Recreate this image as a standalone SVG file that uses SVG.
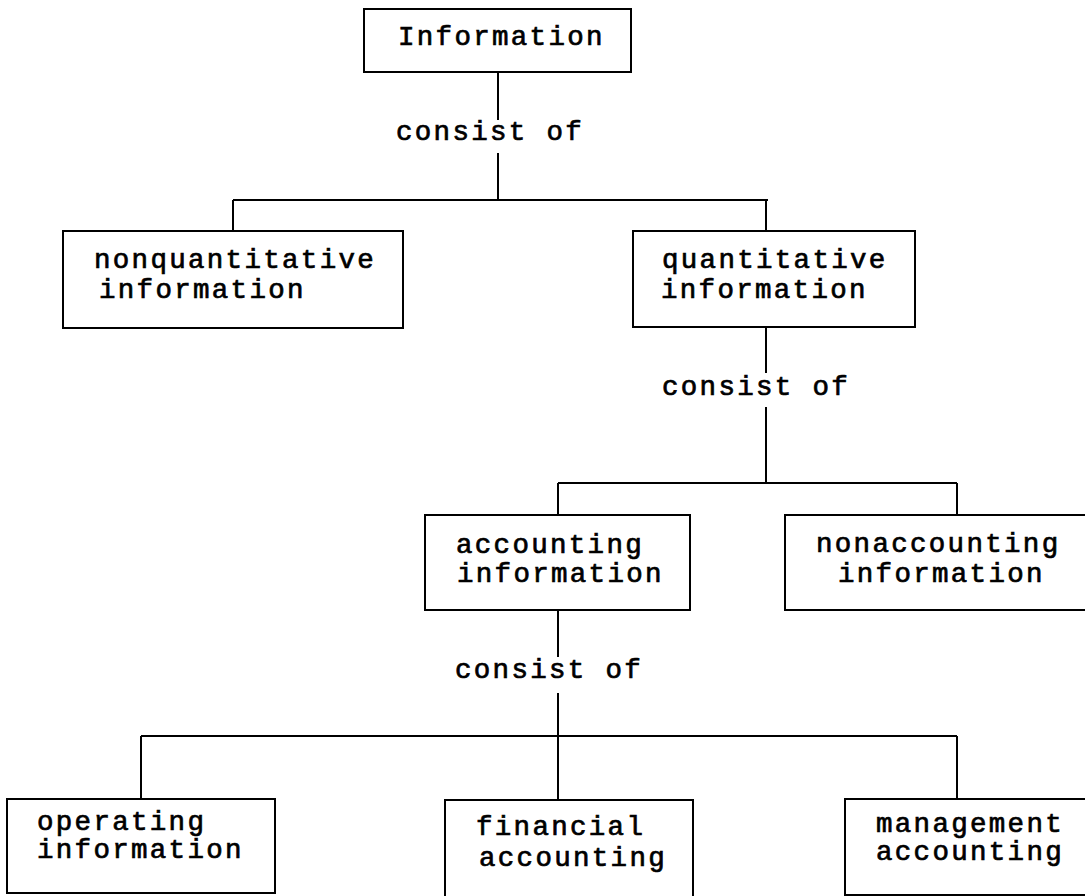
<svg xmlns="http://www.w3.org/2000/svg" width="1085" height="896" viewBox="0 0 1085 896">
<style>
.box{fill:#fff;stroke:#000;stroke-width:2}
.ln{fill:none;stroke:#000;stroke-width:2}
text{font-family:"Liberation Mono","Courier New",monospace;font-size:27.5px;letter-spacing:2.3px;fill:#000;stroke:#000;stroke-width:0.7}
</style>
<rect width="1085" height="896" fill="#fff"/>
<g id="connectors">
<path class="ln" d="M498 72V120M498 153V200M233 200H768M233 200V231M766 200V231"/>
<path class="ln" d="M766 327V373M766 407V483M558 483H957M558 483V515M957 483V515"/>
<path class="ln" d="M558 610V657M558 693V736M141 736H957M141 736V799M558 736V800M957 736V799"/>
</g>
<g id="label1"><text x="396" y="140">consist of</text></g>
<g id="label2"><text x="662" y="395">consist of</text></g>
<g id="label3"><text x="455" y="678">consist of</text></g>
<g id="n-information">
<rect class="box" x="364" y="9" width="267" height="63"/>
<text x="398" y="45">Information</text>
</g>
<g id="n-nonquant">
<rect class="box" x="63" y="231" width="340" height="97"/>
<text x="94" y="268">nonquantitative</text>
<text x="99" y="298">information</text>
</g>
<g id="n-quant">
<rect class="box" x="633" y="231" width="282" height="96"/>
<text x="662" y="268">quantitative</text>
<text x="661" y="298">information</text>
</g>
<g id="n-accounting">
<rect class="box" x="425" y="515" width="265" height="95"/>
<text x="456" y="553">accounting</text>
<text x="457" y="582">information</text>
</g>
<g id="n-nonaccounting">
<rect class="box" x="785" y="515" width="310" height="95"/>
<text x="816" y="552">nonaccounting</text>
<text x="838" y="582">information</text>
</g>
<g id="n-operating">
<rect class="box" x="7" y="799" width="268" height="94"/>
<text x="37" y="830">operating</text>
<text x="37" y="858">information</text>
</g>
<g id="n-financial">
<rect class="box" x="445" y="800" width="248" height="100"/>
<text x="476" y="835">financial</text>
<text x="479" y="866">accounting</text>
</g>
<g id="n-management">
<rect class="box" x="845" y="799" width="250" height="96"/>
<text x="876" y="832">management</text>
<text x="876" y="860">accounting</text>
</g>
</svg>
